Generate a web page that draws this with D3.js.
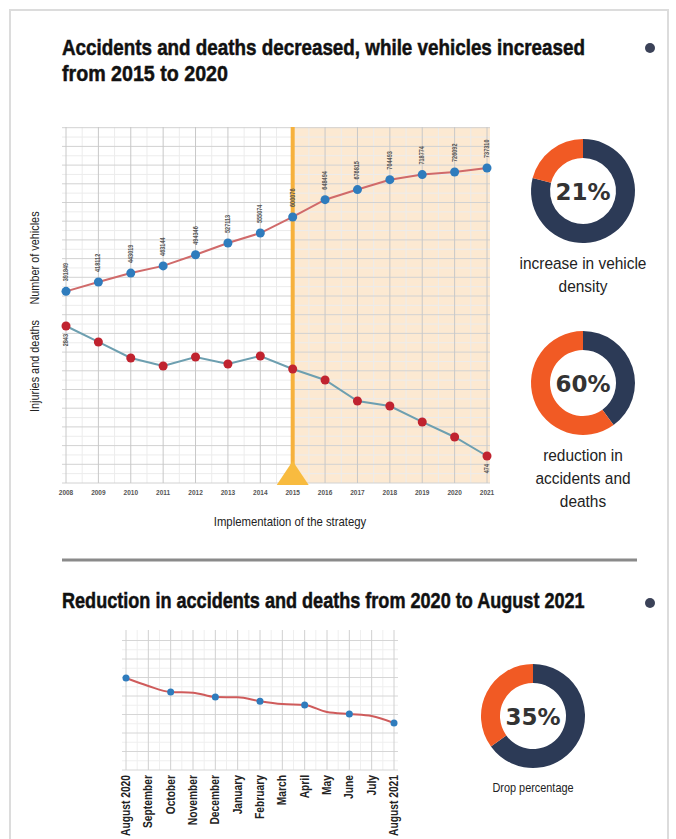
<!DOCTYPE html>
<html>
<head>
<meta charset="utf-8">
<script src="https://cdn.jsdelivr.net/npm/d3@7"></script>
<style>
  body { margin: 0; background: #fff; }
  text { font-family: "Liberation Sans", Arial, sans-serif; }
</style>
</head>
<body>
<script>
// data
var years = [2008, 2009, 2010, 2011, 2012, 2013, 2014, 2015, 2016, 2017, 2018, 2019, 2020, 2021];
var vehicles = [391849, 418112, 443019, 463144, 494346, 527113, 555074, 600076, 648494, 676815, 704493, 718774, 726092, 737310];
var deaths = [2843, 2552, 2260, 2114, 2278, 2150, 2296, 2059, 1859, 1476, 1385, 1094, 820, 474];

var months = ["August 2020", "September", "October", "November", "December", "January",
              "February", "March", "April", "May", "June", "July", "August 2021"];
var monthly = [100, 93.8, 89.1, 88.6, 85.2, 85, 82, 79.8, 79, 73.6, 72, 70.5, 65];

var donuts = [
  {pct: 21, cx: 583, cy: 191, lines: ["increase in vehicle", "density"], ty: 269, fs: 17},
  {pct: 60, cx: 583, cy: 383, lines: ["reduction in", "accidents and", "deaths"], ty: 461, fs: 17},
  {pct: 35, cx: 533, cy: 716, lines: ["Drop percentage"], ty: 792, fs: 12}
];

var navy = "#2c3a56", orange = "#f15a24";

var svg = d3.select("body").append("svg")
    .attr("width", 676)
    .attr("height", 839);

//the reference font is a condensed one, so squeeze a normal font horizontally
function measure(str, size, weight) {
  var t = svg.append("text")
      .style("font-size", size + "px")
      .style("font-weight", weight)
      .text(str);
  var w = t.node().getComputedTextLength();
  t.remove();
  return w;
}
var fBold = 523 / measure("Accidents and deaths decreased, while vehicles increased", 22, "bold");
var fReg = 127 / measure("increase in vehicle", 17, "normal");

function label(parent, x, y, rot, str, size, weight, fill, anchor, f) {
  var g = parent.append("g")
      .attr("transform", "translate(" + x + "," + y + ")" + (rot ? " rotate(" + rot + ")" : ""));
  return g.append("text")
      .attr("text-anchor", anchor || "start")
      .attr("transform", "scale(" + f + ",1)")
      .style("font-size", size + "px")
      .style("font-weight", weight || "normal")
      .style("fill", fill)
      .text(str);
}

//frame
svg.append("rect")
    .attr("x", 10).attr("y", 10)
    .attr("width", 658).attr("height", 840)
    .style("fill", "#fff")
    .style("stroke", "#dcdcdc")
    .style("stroke-width", 2);

//titles
function title(str, y, w) {
  label(svg, 62, y, 0, str, 22, "bold", "#111", "start", w / measure(str, 22, "bold"))
      .style("stroke", "#111")
      .style("stroke-width", 0.5);
}
title("Accidents and deaths decreased, while vehicles increased", 55, 523);
title("from 2015 to 2020", 81, 166);
title("Reduction in accidents and deaths from 2020 to August 2021", 608, 523);

svg.selectAll(".dot").data([48, 603]).enter()
    .append("circle")
    .attr("cx", 650).attr("cy", function(d) { return d; })
    .attr("r", 5)
    .style("fill", "#3b4258");

svg.append("line")
    .attr("x1", 62).attr("x2", 637)
    .attr("y1", 560).attr("y2", 560)
    .style("stroke", "#8a8a8a")
    .style("stroke-width", 3);

// ---------- top chart ----------
var pLeft = 62, pRight = 490, pTop = 127, pBottom = 483;
var x = d3.scalePoint().domain(years).range([66, 487]);
var step = x.step();
var yVeh = d3.scaleLinear().domain([390000, 740000]).range([292, 167]);
var yDeath = d3.scaleLinear().domain([0, 2843]).range([482, 326]);

var top1 = svg.append("g");

top1.append("rect")
    .attr("x", x(2015)).attr("y", pTop)
    .attr("width", pRight - x(2015)).attr("height", pBottom - pTop)
    .style("fill", "#fce9d2");

//minor grid
var hLines = d3.range(pBottom, pTop - 1, -18.7);
top1.selectAll(".hminor").data(hLines.slice(0, -1)).enter()
    .append("line")
    .attr("x1", pLeft).attr("x2", pRight)
    .attr("y1", function(d) { return d - 9.35; })
    .attr("y2", function(d) { return d - 9.35; })
    .style("stroke", "#ececec");
top1.selectAll(".vminor").data(years.slice(0, -1)).enter()
    .append("line")
    .attr("x1", function(d) { return x(d) + step / 2; })
    .attr("x2", function(d) { return x(d) + step / 2; })
    .attr("y1", pTop).attr("y2", pBottom)
    .style("stroke", "#ececec");
//major grid
top1.selectAll(".hmajor").data(hLines).enter()
    .append("line")
    .attr("x1", pLeft).attr("x2", pRight)
    .attr("y1", function(d) { return d; })
    .attr("y2", function(d) { return d; })
    .style("stroke", "#d2d2d2");
top1.selectAll(".vmajor").data(years).enter()
    .append("line")
    .attr("x1", function(d) { return x(d); })
    .attr("x2", function(d) { return x(d); })
    .attr("y1", pTop).attr("y2", pBottom)
    .style("stroke", "#c8c8c8");

//strategy marker
top1.append("line")
    .attr("x1", x(2015)).attr("x2", x(2015))
    .attr("y1", pTop).attr("y2", pBottom)
    .style("stroke", "#f6b13c")
    .style("stroke-width", 4);
top1.append("path")
    .attr("d", "M" + x(2015) + ",461 L" + (x(2015) - 16) + ",485 L" + (x(2015) + 16) + ",485 Z")
    .style("fill", "#f8bb3f");

//x labels
top1.selectAll(".year").data(years).enter()
    .append("text")
    .attr("x", function(d) { return x(d); })
    .attr("y", 495)
    .attr("text-anchor", "middle")
    .style("font-size", "6.5px")
    .style("font-weight", "bold")
    .style("fill", "#555")
    .text(function(d) { return d; });

//lines
var vehLine = d3.line()
    .x(function(d, i) { return x(years[i]); })
    .y(function(d) { return yVeh(d); });
var deathLine = d3.line()
    .x(function(d, i) { return x(years[i]); })
    .y(function(d) { return yDeath(d); });

top1.append("path").datum(vehicles)
    .attr("d", vehLine)
    .style("fill", "none")
    .style("stroke", "#d06a6a")
    .style("stroke-width", 2);
top1.append("path").datum(deaths)
    .attr("d", deathLine)
    .style("fill", "none")
    .style("stroke", "#6d9fb0")
    .style("stroke-width", 2);

top1.selectAll(".vpt").data(vehicles).enter()
    .append("circle")
    .attr("cx", function(d, i) { return x(years[i]); })
    .attr("cy", function(d) { return yVeh(d); })
    .attr("r", 4.5)
    .style("fill", "#2f7cbd");
top1.selectAll(".dpt").data(deaths).enter()
    .append("circle")
    .attr("cx", function(d, i) { return x(years[i]); })
    .attr("cy", function(d) { return yDeath(d); })
    .attr("r", 4.5)
    .style("fill", "#c0232f");

//value labels above vehicles
vehicles.forEach(function(d, i) {
  label(top1, x(years[i]) + 2, yVeh(d) - 10, -90, d, 6.5, "bold", "#555", "start", fBold);
});
[0, deaths.length - 1].forEach(function(i) {
  label(top1, x(years[i]) + 2, yDeath(deaths[i]) + 8, -90, deaths[i], 6.5, "bold", "#555", "end", fBold);
});

//axis titles
label(top1, 39, 258, -90, "Number of vehicles", 12, "normal", "#222", "middle", fReg);
label(top1, 39, 366, -90, "Injuries and deaths", 12, "normal", "#222", "middle", fReg);
label(top1, 290, 526, 0, "Implementation of the strategy", 12.5, "normal", "#222", "middle", fReg);

// ---------- bottom chart ----------
var bl = 122, br = 398, bt = 630, bb = 770;
var xm = d3.scalePoint().domain(months).range([126, 394]);
var mstep = xm.step();
var ym = d3.scaleLinear().domain([65, 100]).range([723, 678]);
var bot = svg.append("g");

var bh = d3.range(bb, bt - 1, -18.5);
bot.selectAll(".bhm").data(bh.slice(0, -1)).enter()
    .append("line")
    .attr("x1", bl).attr("x2", br)
    .attr("y1", function(d) { return d - 9.25; })
    .attr("y2", function(d) { return d - 9.25; })
    .style("stroke", "#efefef");
bot.selectAll(".bvm").data(months.slice(0, -1)).enter()
    .append("line")
    .attr("x1", function(d) { return xm(d) + mstep / 2; })
    .attr("x2", function(d) { return xm(d) + mstep / 2; })
    .attr("y1", bt).attr("y2", bb)
    .style("stroke", "#efefef");
bot.selectAll(".bh").data(bh).enter()
    .append("line")
    .attr("x1", bl).attr("x2", br)
    .attr("y1", function(d) { return d; })
    .attr("y2", function(d) { return d; })
    .style("stroke", "#d6d6d6");
bot.selectAll(".bv").data(months).enter()
    .append("line")
    .attr("x1", function(d) { return xm(d); })
    .attr("x2", function(d) { return xm(d); })
    .attr("y1", bt).attr("y2", bb)
    .style("stroke", "#d0d0d0");

var mLine = d3.line()
    .curve(d3.curveMonotoneX)
    .x(function(d, i) { return xm(months[i]); })
    .y(function(d) { return ym(d); });
bot.append("path").datum(monthly)
    .attr("d", mLine)
    .style("fill", "none")
    .style("stroke", "#cf5b5b")
    .style("stroke-width", 2);
bot.selectAll(".mpt").data(monthly).enter()
    .filter(function(d, i) { return i % 2 === 0; })
    .append("circle")
    .attr("cx", function(d) { return xm(months[monthly.indexOf(d)]); })
    .attr("cy", function(d) { return ym(d); })
    .attr("r", 3.5)
    .style("fill", "#2f7cbd");

months.forEach(function(m) {
  label(bot, xm(m) + 4, bb + 5, -90, m, 12, "bold", "#222", "end", fBold);
});

// ---------- donuts ----------
var arc = d3.arc().innerRadius(33).outerRadius(52);
donuts.forEach(function(d) {
  var g = svg.append("g").attr("transform", "translate(" + d.cx + "," + d.cy + ")");
  var a = -2 * Math.PI * d.pct / 100;
  g.append("path")
      .attr("d", arc({startAngle: 0, endAngle: 2 * Math.PI + a}))
      .style("fill", navy);
  g.append("path")
      .attr("d", arc({startAngle: a, endAngle: 0}))
      .style("fill", orange);
  g.append("text")
      .attr("y", 9)
      .attr("text-anchor", "middle")
      .style("font-family", "'DejaVu Sans', sans-serif")
      .style("font-size", "23px")
      .style("font-weight", "bold")
      .style("fill", "#333")
      .text(d.pct + "%");
  d.lines.forEach(function(l, i) {
    label(svg, d.cx, d.ty + i * 23, 0, l, d.fs, "normal", "#222", "middle", fReg);
  });
});
</script>
</body>
</html>
